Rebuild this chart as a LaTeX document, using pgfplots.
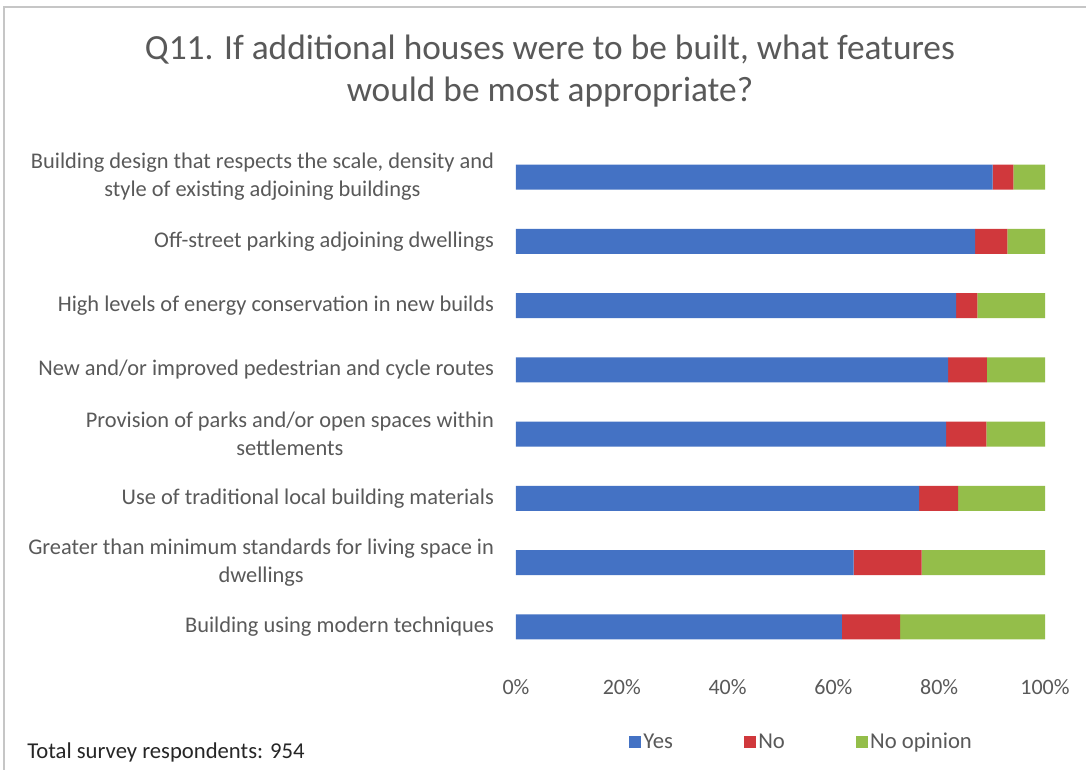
\documentclass[border=0pt]{standalone}
\usepackage{pgfplots}
\pgfplotsset{compat=1.18}
\usepackage{fontspec}
\setmainfont{Carlito}
\definecolor{cyes}{HTML}{4472C4}
\definecolor{cno}{HTML}{D0383C}
\definecolor{cnoop}{HTML}{94BE4A}
\definecolor{ctext}{HTML}{595959}
\begin{document}
\begin{tikzpicture}
\useasboundingbox (0,0) rectangle (814.5pt,576.75pt);
\fill[white] (0,0) rectangle (814.5pt,576.75pt);
% frame
\draw[gray!45, line width=1.5pt] (3pt,-5pt) -- (3pt,571.5pt) -- (830pt,571.5pt);
% title
\node[anchor=base, text=ctext, font=\fontsize{26.5}{30}\selectfont] at (412.5pt,531.75pt)
  {Q11. If additional houses were to be built, what features};
\node[anchor=base, text=ctext, font=\fontsize{26.5}{30}\selectfont] at (412.5pt,500.25pt)
  {would be most appropriate?};
\node[anchor=base west, text=black!85, font=\fontsize{17}{20}\selectfont] at (17pt,8.25pt)
  {Total survey respondents: 954};
\begin{axis}[
  at={(387pt,82.5pt)}, anchor=south west,
  scale only axis,
  width=396.75pt, height=385.5pt,
  xbar stacked,
  bar width=0.39,
  xmin=0, xmax=100,
  ymin=-0.5, ymax=7.5,
  y dir=reverse,
  axis line style={draw=none},
  xtick={0,20,...,100},
  xticklabel={\pgfmathprintnumber{\tick}\%},
  ytick={0,...,7},
  yticklabels={
    {Building design that respects the scale, density and\\style of existing adjoining buildings},
    {Off-street parking adjoining dwellings},
    {High levels of energy conservation in new builds},
    {New and/or improved pedestrian and cycle routes},
    {Provision of parks and/or open spaces within\\settlements},
    {Use of traditional local building materials},
    {Greater than minimum standards for living space in\\dwellings},
    {Building using modern techniques}},
  major tick length=0pt,
  /pgf/number format/assume math mode=true,
  tick label style={text=ctext},
  yticklabel style={align=center, font=\fontsize{16.8}{21}\selectfont, xshift=-13pt},
  xticklabel style={font=\fontsize{16.5}{18}\selectfont, yshift=-12pt},
  legend style={at={(0.540,-0.161)}, anchor=center, draw=none,
    legend columns=3, font=\fontsize{17}{18}\selectfont, text=ctext,
    /tikz/every even column/.append style={column sep=51pt}},
  legend image code/.code={\fill[#1] (0pt,-4.5pt) rectangle (9pt,4.5pt);},
]
\addplot[fill=cyes, draw=none] coordinates
  {(90.1,0) (86.8,1) (83.2,2) (81.7,3) (81.3,4) (76.2,5) (63.8,6) (61.6,7)};
\addplot[fill=cno, draw=none] coordinates
  {(3.9,0) (6.1,1) (4.0,2) (7.3,3) (7.6,4) (7.4,5) (12.9,6) (11.0,7)};
\addplot[fill=cnoop, draw=none] coordinates
  {(6.0,0) (7.1,1) (12.8,2) (11.0,3) (11.1,4) (16.4,5) (23.3,6) (27.4,7)};
\legend{Yes, No, No opinion}
\end{axis}
\end{tikzpicture}
\end{document}
